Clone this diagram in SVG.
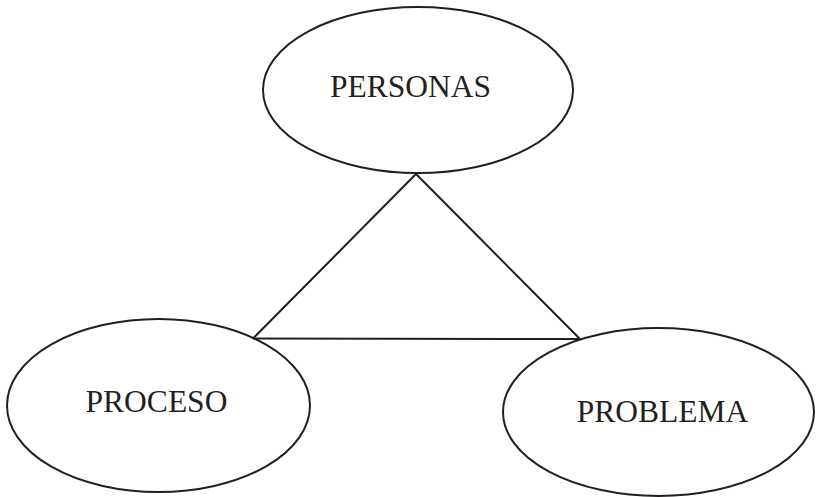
<svg xmlns="http://www.w3.org/2000/svg" width="816" height="497" viewBox="0 0 816 497">
<style>
.n{fill:none;stroke:#231f20;stroke-width:2}
.t{font-family:"Liberation Serif","Times New Roman",serif;font-size:31.5px;fill:#231f20;text-anchor:middle}
.c{fill:none;stroke:#231f20;stroke-width:2;stroke-linejoin:miter}
</style>
<rect width="816" height="497" fill="#fff"/>
<g id="connectors">
<polyline class="c" points="253,338.5 416,174 580,339"/>
<line class="c" x1="253" y1="338.5" x2="580" y2="339"/>
</g>
<g id="personas">
<ellipse class="n" cx="418" cy="90" rx="155" ry="83"/>
<text class="t" x="410.5" y="97">PERSONAS</text>
</g>
<g id="proceso">
<ellipse class="n" cx="158.5" cy="405.5" rx="151.5" ry="86.5"/>
<text class="t" x="156.5" y="412">PROCESO</text>
</g>
<g id="problema">
<ellipse class="n" cx="658.5" cy="412" rx="155.5" ry="84"/>
<text class="t" x="662.5" y="422">PROBLEMA</text>
</g>
</svg>
